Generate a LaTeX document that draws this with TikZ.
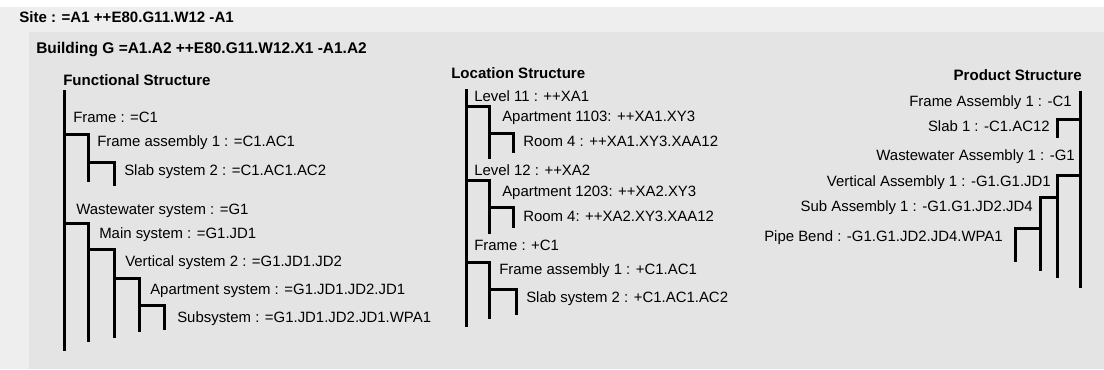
\documentclass[tikz,border=0pt]{standalone}
\usepackage{fontspec}
\setmainfont{Liberation Sans}
\definecolor{sitegray}{HTML}{EEEEEE}
\definecolor{bldggray}{HTML}{E4E4E4}
\tikzset{
  lbl/.style={inner sep=0pt, font=\fontsize{11.2}{13}\selectfont},
  head/.style={inner sep=0pt, font=\fontsize{11.3}{13}\selectfont\bfseries},
  tree/.style={line width=2.25pt, line cap=butt, line join=miter}
}

\begin{document}
\begin{tikzpicture}[x=0.75pt, y=-0.75pt]

\useasboundingbox (0,0) rectangle (1104,369);
\fill [white] (0,0) rectangle (1104,369);
\fill [sitegray] (0,7) rectangle (1104,369);
\fill [bldggray] (29,32) rectangle (1104,369);

\node [head, anchor=west] (site) at (19,17) {Site : =A1 ++E80.G11.W12 -A1};
\node [head, anchor=west, font=\fontsize{11.6}{14}\selectfont\bfseries] (bldg) at (36,50) {Building G =A1.A2 ++E80.G11.W12.X1 -A1.A2};

% functional
\node [head, anchor=west] (fhead) at (63,80) {Functional Structure};
\draw [tree] (64,90) -- (64,351);
\node [lbl, anchor=west] (fframe) at (73,117) {Frame : =C1};
\draw [tree] (64,134) -- (88,134) -- (88,182);
\node [lbl, anchor=west] (fassy) at (97,143) {Frame assembly 1 : =C1.AC1};
\draw [tree] (88,162) -- (114,162) -- (114,186);
\node [lbl, anchor=west] (fslab) at (124,172) {Slab system 2 : =C1.AC1.AC2};
\node [lbl, anchor=west] (fww) at (76,211) {Wastewater system : =G1};
\draw [tree] (64,223) -- (88,223) -- (88,342);
\node [lbl, anchor=west] (fmain) at (99,235) {Main system : =G1.JD1};
\draw [tree] (88,249) -- (114,249) -- (114,338);
\node [lbl, anchor=west] (fvert) at (125,263) {Vertical system 2 : =G1.JD1.JD2};
\draw [tree] (114,278) -- (139,278) -- (139,332);
\node [lbl, anchor=west] (fapt) at (150,291) {Apartment system : =G1.JD1.JD2.JD1};
\draw [tree] (139,305) -- (164,305) -- (164,330);
\node [lbl, anchor=west] (fsub) at (177,319) {Subsystem : =G1.JD1.JD2.JD1.WPA1};

% location
\node [head, anchor=west] (lhead) at (451,73) {Location Structure};
\draw [tree] (466,89) -- (466,327);
\node [lbl, anchor=west] (llev11) at (474,96) {Level 11 : ++XA1};
\draw [tree] (466,106) -- (489,106) -- (489,159);
\node [lbl, anchor=west] (lapt1) at (502,118) {Apartment 1103: ++XA1.XY3};
\draw [tree] (489,133) -- (513,133) -- (513,153);
\node [lbl, anchor=west] (lroom1) at (523,141) {Room 4 : ++XA1.XY3.XAA12};
\node [lbl, anchor=west] (llev12) at (474,170) {Level 12 : ++XA2};
\draw [tree] (466,180) -- (489,180) -- (489,234);
\node [lbl, anchor=west] (lapt2) at (502,193) {Apartment 1203: ++XA2.XY3};
\draw [tree] (489,207) -- (513,207) -- (513,228);
\node [lbl, anchor=west] (lroom2) at (523,216) {Room 4: ++XA2.XY3.XAA12};
\node [lbl, anchor=west] (lframe) at (474,245) {Frame : +C1};
\draw [tree] (466,262) -- (489,262) -- (489,319);
\node [lbl, anchor=west] (lassy) at (499,271) {Frame assembly 1 : +C1.AC1};
\draw [tree] (489,289) -- (516,289) -- (516,315);
\node [lbl, anchor=west] (lslab) at (526,299) {Slab system 2 : +C1.AC1.AC2};

% product
\node [head, anchor=east] (phead) at (1082,75) {Product Structure};
\draw [tree] (1080,91) -- (1080,288);
\node [lbl, anchor=east] (pframe) at (1072,103) {Frame Assembly 1 : -C1};
\draw [tree] (1080,119) -- (1057,119) -- (1057,138);
\node [lbl, anchor=east] (pslab) at (1050,126) {Slab 1 : -C1.AC12};
\node [lbl, anchor=east] (pww) at (1075,157) {Wastewater Assembly 1 : -G1};
\draw [tree] (1080,175) -- (1057,175) -- (1057,278);
\node [lbl, anchor=east] (pvert) at (1051,183) {Vertical Assembly 1 : -G1.G1.JD1};
\draw [tree] (1057,197) -- (1040,197) -- (1040,271);
\node [lbl, anchor=east] (psub) at (1033,208) {Sub Assembly 1 : -G1.G1.JD2.JD4};
\draw [tree] (1040,228) -- (1015,228) -- (1015,262);
\node [lbl, anchor=east] (ppipe) at (1003,238) {Pipe Bend : -G1.G1.JD2.JD4.WPA1};

\end{tikzpicture}
\end{document}
